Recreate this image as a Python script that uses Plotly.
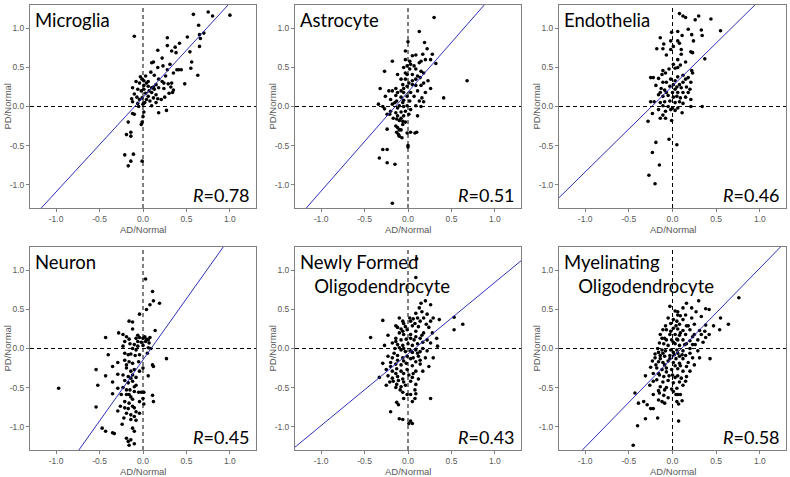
import plotly.graph_objects as go

# ---------------- data ----------------
panel_names = ["Microglia", "Astrocyte", "Endothelia", "Neuron",
               "Newly Formed<br>   Oligodendrocyte", "Myelinating<br>   Oligodendrocyte"]
r_values = ["0.78", "0.51", "0.46", "0.45", "0.43", "0.58"]
fit_slopes = [1.21, 1.27, 1.10, 1.566, 0.918, 1.146]
fit_intercepts = [0.116, 0.186, 0.262, -0.145, -0.070, -0.117]
tick_vals = [-1.0, -0.5, 0.0, 0.5, 1.0]
tick_text = ["-1.0", "-0.5", "0.0", "0.5", "1.0"]

microglia = [(0.58,1.18),(0.75,1.21),(0.80,1.16),(1.0,1.17),(0.70,0.94),(0.64,1.04),(0.65,0.92),(0.66,0.87),(0.65,0.77),(-0.10,0.90),(0.28,0.88),(0.51,0.89),(0.42,0.81),(0.28,0.78),(0.37,0.76),(0.33,0.71),(0.38,0.69),(0.54,0.70),(0.17,0.72),(0.22,0.62),(0.56,0.57),(0.12,0.57),(0.10,0.56),(0.31,0.54),(0.23,0.52),(0.17,0.50),(0.55,0.49),(0.41,0.47),(0.44,0.47),(0.39,0.47),(0.35,0.43),(0.28,0.47),(0.26,0.39),(0.63,0.40),(0.48,0.29),(0.09,0.44),(0.03,0.39),(-0.03,0.38),(-0.01,0.35),(0.01,0.33),(0.13,0.40),(0.18,0.35),(0.22,0.32),(0.15,0.28),(0.24,0.30),(0.29,0.29),(0.33,0.30),(0.32,0.25),(0.24,0.23),(0.30,0.17),(0.35,0.21),(0.34,0.18),(-0.08,0.32),(-0.04,0.30),(-0.12,0.24),(-0.06,0.22),(0.01,0.27),(0.06,0.26),(0.10,0.24),(0.12,0.25),(-0.02,0.20),(0.01,0.22),(0.03,0.17),(0.06,0.13),(0.10,0.18),(0.15,0.15),(0.12,0.11),(0.17,0.10),(-0.10,0.16),(-0.07,0.12),(-0.04,0.09),(-0.01,0.11),(0.04,0.09),(0.08,0.07),(0.21,0.09),(0.25,0.12),(-0.13,0.10),(-0.12,0.06),(-0.06,0.04),(0.00,0.03),(0.02,0.05),(0.10,0.01),(-0.05,0.0),(0.18,-0.08),(0.27,-0.05),(-0.12,-0.09),(-0.10,-0.10),(0.01,-0.07),(0.00,-0.13),(-0.01,-0.20),(-0.02,-0.23),(-0.17,-0.20),(-0.19,-0.36),(-0.14,-0.33),(-0.14,-0.38),(-0.21,-0.62),(-0.11,-0.61),(-0.17,-0.76),(-0.14,-0.70),(-0.01,-0.70),(0.06,0.32),(0.13,0.22),(0.18,0.24),(0.04,0.30),(0.07,0.20),(0.15,0.05)]

astrocyte = [(0.30,1.14),(0.13,0.96),(0.0,0.83),(0.19,0.82),(-0.03,0.71),(0.22,0.74),(0.09,0.66),(0.05,0.65),(0.17,0.67),(0.28,0.67),(0.20,0.60),(0.26,0.60),(0.15,0.58),(0.13,0.56),(0.32,0.55),(-0.18,0.58),(0.03,0.54),(0.07,0.52),(-0.01,0.52),(-0.05,0.50),(0.02,0.48),(0.09,0.48),(-0.27,0.45),(0.15,0.45),(0.18,0.43),(-0.12,0.41),(-0.03,0.43),(0.05,0.41),(0.11,0.39),(0.14,0.37),(0.68,0.33),(0.23,0.33),(0.18,0.30),(-0.08,0.35),(-0.03,0.35),(0.01,0.30),(0.05,0.33),(-0.06,0.28),(-0.01,0.26),(0.09,0.27),(0.15,0.27),(-0.32,0.23),(0.26,0.23),(-0.22,0.20),(-0.18,0.20),(-0.12,0.18),(-0.05,0.18),(0.03,0.18),(0.11,0.20),(0.20,0.18),(-0.26,0.13),(-0.14,0.14),(-0.08,0.12),(-0.01,0.13),(0.07,0.13),(0.16,0.11),(0.41,0.11),(-0.20,0.09),(-0.13,0.07),(-0.05,0.08),(0.02,0.07),(0.13,0.07),(0.18,0.06),(-0.34,0.03),(-0.29,0.0),(-0.27,-0.03),(-0.18,0.03),(-0.10,0.01),(-0.05,0.0),(0.09,0.01),(0.15,0.0),(-0.20,-0.06),(-0.14,-0.08),(-0.08,-0.07),(-0.03,-0.06),(0.03,-0.04),(0.11,-0.12),(-0.24,-0.10),(-0.21,-0.10),(-0.12,-0.12),(-0.08,-0.15),(-0.05,-0.12),(0.01,-0.10),(-0.13,-0.16),(-0.10,-0.18),(-0.06,-0.19),(-0.03,-0.20),(-0.24,-0.29),(-0.12,-0.27),(-0.10,-0.30),(-0.08,-0.30),(-0.13,-0.33),(0.03,-0.33),(0.08,-0.34),(0.10,-0.33),(-0.11,-0.36),(-0.07,-0.40),(-0.10,-0.38),(-0.01,-0.34),(0.0,-0.50),(0.0,-0.52),(-0.29,-0.55),(-0.24,-0.55),(-0.33,-0.66),(-0.24,-0.72),(-0.15,-0.74),(-0.18,-1.24),
             (0.05,0.28),(0.09,0.35),(-0.05,0.23),(-0.08,0.20),(-0.14,0.23),(-0.15,0.05),(-0.06,0.05),(-0.01,0.01),(-0.12,-0.02),(-0.17,-0.15),(-0.06,-0.23),(-0.14,-0.25),(-0.01,0.41),(0.02,0.58),(-0.03,0.60)]

endothelia = [(0.08,1.19),(0.12,1.16),(0.15,1.14),(0.30,1.16),(0.44,1.12),(0.26,1.11),(0.55,0.97),(0.18,0.99),(0.33,0.98),(0.06,0.96),(-0.01,0.95),(0.34,0.91),(0.11,0.91),(0.22,0.92),(-0.14,0.88),(-0.02,0.84),(0.06,0.84),(0.24,0.84),(0.08,0.81),(-0.10,0.80),(0.01,0.77),(-0.18,0.74),(-0.11,0.74),(-0.02,0.73),(0.10,0.73),(0.21,0.70),(0.23,0.69),(0.10,0.67),(-0.07,0.66),(0.37,0.61),(0.06,0.60),(0.15,0.57),(0.01,0.54),(0.09,0.53),(0.06,0.50),(0.03,0.49),(-0.04,0.48),(0.22,0.46),(-0.11,0.46),(-0.08,0.43),(-0.12,0.41),(0.23,0.43),(0.12,0.40),(0.06,0.38),(-0.25,0.37),(-0.22,0.37),(-0.16,0.36),(0.15,0.35),(0.18,0.37),(-0.02,0.35),(0.03,0.33),(-0.11,0.31),(-0.07,0.31),(0.01,0.28),(0.08,0.28),(0.12,0.31),(0.21,0.31),(-0.19,0.27),(-0.03,0.26),(0.05,0.25),(0.10,0.24),(0.16,0.25),(-0.13,0.23),(-0.09,0.21),(0.03,0.22),(0.20,0.22),(-0.14,0.18),(-0.07,0.18),(0.0,0.18),(0.06,0.18),(0.12,0.18),(0.18,0.18),(-0.16,0.15),(-0.11,0.13),(-0.05,0.14),(0.01,0.12),(0.05,0.13),(0.09,0.11),(0.15,0.12),(0.21,0.09),(-0.25,0.06),(-0.21,0.06),(-0.14,0.05),(-0.09,0.06),(-0.03,0.07),(0.03,0.05),(0.08,0.06),(0.12,0.04),(-0.11,0.01),(-0.05,0.0),(0.0,-0.02),(0.06,-0.02),(0.21,0.0),(0.34,0.0),(-0.16,-0.04),(-0.08,-0.06),(-0.02,-0.04),(0.03,-0.05),(-0.23,-0.09),(-0.11,-0.11),(0.11,-0.08),(-0.14,-0.15),(-0.08,-0.15),(-0.01,-0.18),(-0.28,-0.19),(-0.04,-0.42),(0.05,-0.49),(-0.19,-0.46),(-0.23,-0.59),(-0.15,-0.75),(-0.27,-0.88),(-0.20,-0.99)]

neuron = [(0.03,0.89),(0.11,0.73),(0.12,0.61),(0.19,0.58),(0.08,0.56),(0.04,0.50),(-0.04,0.44),(-0.16,0.35),(-0.12,0.34),(0.14,0.23),(-0.12,0.25),(-0.43,0.14),(-0.28,0.20),(-0.23,0.18),(-0.19,0.15),(-0.21,0.09),(-0.16,0.12),(0.08,0.14),(-0.08,0.13),(-0.04,0.14),(0.0,0.13),(0.04,0.12),(-0.06,0.09),(-0.02,0.08),(0.03,0.09),(0.07,0.07),(-0.10,0.05),(-0.06,0.03),(0.0,0.04),(0.06,0.01),(-0.12,0.0),(-0.23,0.03),(0.09,0.0),(-0.40,-0.08),(-0.21,-0.06),(-0.17,-0.08),(-0.14,-0.07),(-0.09,-0.09),(-0.04,-0.08),(0.05,-0.06),(0.27,-0.13),(-0.29,-0.18),(-0.21,-0.15),(-0.16,-0.17),(-0.12,-0.19),(-0.05,-0.17),(-0.35,-0.23),(0.11,-0.21),(0.12,-0.23),(-0.54,-0.27),(-0.19,-0.25),(-0.14,-0.29),(-0.10,-0.27),(-0.04,-0.29),(0.0,-0.25),(-0.29,-0.33),(-0.23,-0.34),(-0.17,-0.36),(-0.12,-0.34),(-0.08,-0.37),(0.06,-0.35),(-0.43,-0.35),(-0.35,-0.43),(-0.21,-0.41),(-0.17,-0.44),(-0.12,-0.42),(-0.08,-0.47),(-0.52,-0.47),(-0.97,-0.51),(-0.29,-0.51),(-0.23,-0.50),(-0.15,-0.53),(-0.10,-0.55),(-0.05,-0.56),(-0.02,-0.56),(0.01,-0.56),(-0.35,-0.58),(-0.25,-0.59),(-0.19,-0.59),(-0.14,-0.62),(0.11,-0.60),(0.12,-0.68),(0.0,-0.64),(0.01,-0.71),(-0.12,-0.65),(-0.21,-0.68),(-0.16,-0.70),(-0.54,-0.75),(-0.26,-0.74),(-0.21,-0.76),(-0.17,-0.77),(-0.12,-0.74),(-0.08,-0.81),(-0.04,-0.83),(-0.29,-0.80),(-0.14,-0.85),(-0.22,-0.89),(-0.10,-0.87),(-0.08,-0.92),(-0.24,-0.97),(-0.12,-1.02),(-0.10,-1.06),(-0.47,-1.02),(-0.43,-1.06),(-0.35,-1.08),(-0.33,-1.09),(-0.19,-1.15),(-0.17,-1.19),(-0.16,-1.24),(-0.10,-1.22),(-0.14,-1.17),
          (-0.06,0.17),(0.02,0.15),(0.06,0.11),(-0.15,0.06),(-0.08,-0.02),(-0.19,-0.21),(-0.14,-0.38),(-0.10,-0.49),(-0.19,-0.53),(-0.16,-0.59),(-0.04,-0.68),(-0.10,-0.76),(-0.19,-0.83),(-0.14,-0.91)]

newly_formed = [(0.10,1.15),(0.09,0.91),(0.20,0.61),(0.26,0.56),(0.15,0.58),(0.13,0.52),(0.16,0.47),(0.09,0.45),(0.22,0.44),(0.29,0.39),(0.36,0.37),(0.53,0.40),(0.63,0.31),(0.02,0.39),(0.06,0.38),(0.11,0.39),(0.18,0.39),(-0.29,0.36),(0.53,0.24),(-0.12,0.27),(-0.08,0.25),(-0.03,0.28),(0.05,0.29),(0.12,0.28),(0.24,0.27),(-0.43,0.14),(-0.23,0.17),(-0.10,0.20),(-0.05,0.18),(0.03,0.18),(0.09,0.22),(0.18,0.20),(0.28,0.20),(-0.27,0.04),(-0.14,0.13),(-0.08,0.11),(-0.02,0.12),(0.07,0.11),(0.14,0.13),(0.22,0.11),(0.33,0.13),(-0.18,0.07),(-0.12,0.05),(-0.06,0.04),(0.0,0.06),(0.05,0.04),(0.11,0.06),(0.17,0.08),(0.26,0.07),(0.34,0.03),(-0.15,0.0),(-0.08,-0.02),(-0.03,-0.04),(0.03,-0.03),(0.09,-0.02),(0.14,-0.04),(0.22,-0.03),(-0.23,-0.10),(-0.18,-0.12),(-0.12,-0.09),(-0.06,-0.12),(-0.01,-0.10),(0.06,-0.12),(0.12,-0.10),(0.20,-0.12),(0.29,-0.12),(-0.29,-0.19),(-0.20,-0.18),(-0.14,-0.20),(-0.08,-0.21),(-0.02,-0.19),(0.05,-0.22),(0.14,-0.20),(0.24,-0.23),(-0.25,-0.27),(-0.18,-0.29),(-0.13,-0.26),(-0.08,-0.29),(-0.01,-0.27),(0.09,-0.29),(0.17,-0.29),(-0.33,-0.37),(-0.23,-0.35),(-0.18,-0.38),(-0.12,-0.36),(-0.06,-0.39),(0.05,-0.37),(0.12,-0.39),(-0.21,-0.43),(-0.13,-0.46),(-0.08,-0.49),(-0.03,-0.47),(0.09,-0.46),(-0.09,-0.53),(-0.06,-0.56),(0.03,-0.59),(0.09,-0.58),(0.08,-0.64),(0.05,-0.68),(0.26,-0.64),(-0.13,-0.69),(-0.11,-0.72),(-0.20,-0.81),(-0.10,-0.90),(-0.06,-0.91),(0.03,-0.93),(0.05,-0.96),(0.01,-0.96),
                (-0.10,0.39),(-0.06,0.35),(-0.05,0.32),(-0.14,0.29),(0.03,0.35),(0.08,0.32),(0.14,0.35),(0.21,0.31),(0.26,0.35),(-0.06,0.22),(-0.01,0.24),(0.03,0.13),(0.09,0.15),(0.16,0.17),(-0.14,0.09),(-0.10,0.01),(-0.05,0.0),(0.05,-0.05),(0.11,-0.06),(0.17,0.0),(-0.16,-0.06),(-0.12,-0.15),(-0.05,-0.16),(0.03,-0.13),(0.09,-0.17),(0.14,-0.15),(-0.20,-0.23),(-0.14,-0.32),(-0.05,-0.32),(0.01,-0.34),(0.06,-0.32),(-0.17,-0.42),(-0.11,-0.41),(-0.05,-0.43),(0.03,-0.42),(-0.25,-0.47),(-0.14,-0.50),(-0.05,-0.64),(-0.01,-0.59),(0.08,-0.53)]

myelinating = [(0.76,0.65),(0.30,0.61),(0.16,0.58),(0.22,0.52),(0.27,0.47),(0.38,0.51),(0.42,0.50),(0.12,0.52),(0.06,0.47),(0.03,0.48),(0.09,0.42),(0.15,0.43),(0.22,0.39),(0.33,0.41),(0.55,0.39),(0.64,0.31),(0.01,0.37),(0.05,0.35),(-0.08,0.29),(-0.02,0.32),(0.08,0.31),(0.16,0.29),(0.25,0.31),(0.38,0.30),(0.47,0.29),(0.54,0.24),(-0.07,0.24),(0.01,0.26),(0.06,0.25),(0.12,0.23),(0.20,0.24),(0.31,0.23),(0.37,0.22),(0.42,0.18),(-0.03,0.18),(0.03,0.18),(0.08,0.17),(0.15,0.18),(0.23,0.15),(0.33,0.18),(0.38,0.14),(-0.12,0.13),(-0.07,0.11),(-0.01,0.11),(0.05,0.12),(0.12,0.11),(0.20,0.10),(0.29,0.11),(0.35,0.08),(-0.15,0.07),(-0.10,0.06),(-0.05,0.04),(0.03,0.06),(0.08,0.04),(0.16,0.06),(0.26,0.05),(-0.17,0.0),(-0.12,-0.02),(-0.08,-0.03),(-0.02,-0.02),(0.05,-0.02),(0.12,-0.03),(0.20,0.0),(0.29,-0.03),(-0.20,-0.07),(-0.14,-0.09),(-0.09,-0.10),(-0.03,-0.09),(0.02,-0.08),(0.08,-0.10),(0.15,-0.09),(0.23,-0.12),(0.43,-0.13),(-0.23,-0.16),(-0.16,-0.17),(-0.11,-0.18),(-0.05,-0.16),(0.01,-0.18),(0.08,-0.19),(0.18,-0.18),(0.25,-0.21),(-0.25,-0.24),(-0.18,-0.25),(-0.12,-0.27),(-0.07,-0.25),(-0.01,-0.27),(0.06,-0.26),(0.12,-0.29),(0.20,-0.29),(-0.31,-0.35),(-0.22,-0.32),(-0.15,-0.34),(-0.10,-0.36),(-0.04,-0.35),(0.03,-0.37),(0.10,-0.38),(0.16,-0.36),(-0.18,-0.40),(-0.11,-0.43),(-0.05,-0.41),(0.01,-0.44),(0.08,-0.43),(0.12,-0.47),(-0.14,-0.49),(-0.07,-0.50),(-0.01,-0.52),(0.05,-0.51),(-0.22,-0.59),(-0.15,-0.57),(-0.10,-0.60),(-0.05,-0.63),(0.04,-0.59),(0.06,-0.59),(0.09,-0.59),(-0.16,-0.66),(-0.12,-0.68),(-0.09,-0.70),(0.05,-0.68),(0.11,-0.67),(0.07,-0.71),(-0.33,-0.68),(-0.29,-0.72),(-0.25,-0.77),(-0.22,-0.77),(-0.39,-0.70),(-0.17,-0.89),(-0.31,-0.90),(-0.43,-0.57),(-0.40,-0.99),(0.07,-0.93),(-0.45,-1.24),
               (-0.03,0.54),(0.06,0.43),(0.12,0.37),(-0.05,0.39),(-0.11,0.24),(-0.02,0.22),(0.04,0.29),(0.09,0.20),(0.18,0.29),(0.25,0.18),(-0.14,0.18),(-0.09,0.13),(0.01,0.08),(0.06,0.11),(0.14,0.05),(0.23,0.05),(-0.16,-0.05),(-0.11,-0.06),(0.01,-0.05),(0.06,-0.06),(0.11,-0.08),(0.20,-0.06),(-0.20,-0.12),(-0.14,-0.13),(-0.03,-0.13),(0.04,-0.13),(0.12,-0.13),(0.31,-0.12),(-0.19,-0.21),(-0.09,-0.21),(0.03,-0.22),(0.09,-0.22),(0.16,-0.23),(-0.16,-0.32),(-0.07,-0.30),(0.0,-0.34),(0.06,-0.35),(0.15,-0.42),(-0.09,-0.53),(0.01,-0.55),(-0.16,-0.54),(-0.26,-0.47),(-0.22,-0.42)]

panel_points = [microglia, astrocyte, endothelia, neuron, newly_formed, myelinating]

# ---------------- layout geometry (pixels) ----------------
W, H = 790, 477
col_px = [(30, 256), (295, 521), (559, 786)]
row_px = [(5, 208), (247, 450)]
axis_range = [-1.3, 1.3]

fig = go.Figure()
grey = "#7f7f7f"
txt_grey = "#595959"

for i, pts in enumerate(panel_points):
    r, c = divmod(i, 3)
    n = i + 1
    xa = "x" if n == 1 else f"x{n}"
    ya = "y" if n == 1 else f"y{n}"
    xs = [p[0] for p in pts]
    ys = [p[1] for p in pts]
    fig.add_trace(go.Scatter(x=xs, y=ys, mode="markers", xaxis=xa, yaxis=ya,
                             marker=dict(color="black", size=3.6), showlegend=False,
                             hoverinfo="skip"))
    lx = [axis_range[0], axis_range[1]]
    ly = [fit_slopes[i] * v + fit_intercepts[i] for v in lx]
    fig.add_trace(go.Scatter(x=lx, y=ly, mode="lines", xaxis=xa, yaxis=ya,
                             line=dict(color="#2e2eb8", width=1), showlegend=False,
                             hoverinfo="skip"))
    x0, x1 = col_px[c]
    y0, y1 = row_px[r]
    axcommon = dict(range=axis_range, showgrid=False, zeroline=False, showline=True,
                    mirror=True, linecolor=grey, linewidth=1, ticks="outside",
                    ticklen=3, tickcolor=grey, tickvals=tick_vals, ticktext=tick_text,
                    tickfont=dict(family="Liberation Sans", size=8.5, color=txt_grey))
    fig.layout[f"xaxis{'' if n == 1 else n}"] = dict(axcommon, domain=[x0 / W, x1 / W], anchor=ya)
    fig.layout[f"yaxis{'' if n == 1 else n}"] = dict(axcommon, domain=[1 - y1 / H, 1 - y0 / H], anchor=xa)

    # dashed zero lines
    fig.add_shape(type="line", xref=xa, yref=f"{ya} domain", x0=0, x1=0, y0=0, y1=1,
                  line=dict(color="black", width=1, dash="4px,3px"))
    fig.add_shape(type="line", xref=f"{xa} domain", yref=ya, x0=0, x1=1, y0=0, y1=0,
                  line=dict(color="black", width=1, dash="4px,3px"))

    # panel title
    fig.add_annotation(text=panel_names[i], xref=f"{xa} domain", yref=f"{ya} domain",
                       x=0, y=1, xanchor="left", yanchor="top", align="left",
                       xshift=3, yshift=-2, showarrow=False,
                       font=dict(family="Lato", size=18.5, color="black"))
    # R value
    fig.add_annotation(text=f"<i>R</i>={r_values[i]}", xref=f"{xa} domain", yref=f"{ya} domain",
                       x=1, y=0, xanchor="right", yanchor="bottom",
                       xshift=-4, yshift=0, showarrow=False,
                       font=dict(family="Lato", size=18, color="black"))
    # axis titles
    fig.add_annotation(text="AD/Normal", xref=f"{xa} domain", yref=f"{ya} domain",
                       x=0.5, y=0, yshift=-21, xanchor="center", yanchor="middle",
                       showarrow=False, font=dict(family="Liberation Sans", size=9.5, color=txt_grey))
    fig.add_annotation(text="PD/Normal", xref=f"{xa} domain", yref=f"{ya} domain",
                       x=0, y=0.5, xshift=-23, xanchor="center", yanchor="middle",
                       textangle=-90, showarrow=False,
                       font=dict(family="Liberation Sans", size=9.5, color=txt_grey))

fig.update_layout(width=W, height=H, margin=dict(l=0, r=0, t=0, b=0),
                  paper_bgcolor="white", plot_bgcolor="white")
fig.write_html("out.html", config={"displayModeBar": False},
               post_script="document.body.style.margin='0';document.body.style.overflow='hidden';")
